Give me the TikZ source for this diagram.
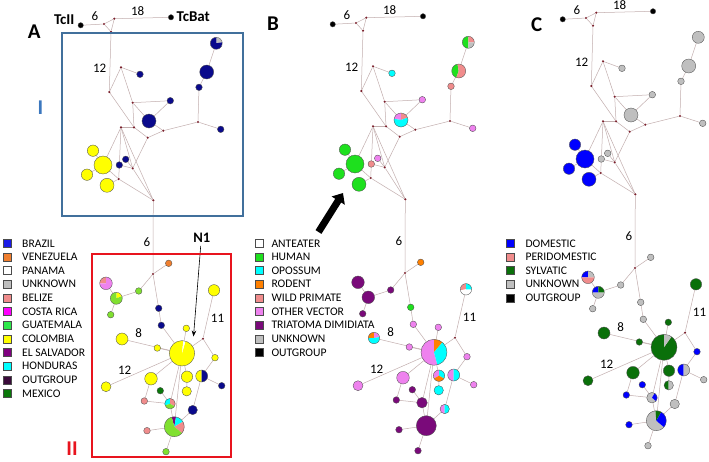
\documentclass[tikz,border=0pt]{standalone}
\usepackage{fontspec}
\setmainfont{Carlito}
\usetikzlibrary{arrows.meta,backgrounds}
\definecolor{navyc}{HTML}{0A0A8C}
\definecolor{brazilL}{HTML}{1A1AE6}
\definecolor{venez}{HTML}{F07F2F}
\definecolor{salm}{HTML}{F08C8C}
\definecolor{costaL}{HTML}{FF00FF}
\definecolor{violc}{HTML}{EE82EE}
\definecolor{guatL}{HTML}{2EE84A}
\definecolor{limec}{HTML}{80E030}
\definecolor{yel}{HTML}{FFFF00}
\definecolor{elsal}{HTML}{7F007F}
\definecolor{hond}{HTML}{00FFFF}
\definecolor{outg}{HTML}{3A0A3A}
\definecolor{mex}{HTML}{0A780A}
\definecolor{unk}{HTML}{BFBFBF}
\definecolor{human}{HTML}{1EE01E}
\definecolor{triat}{HTML}{7A0A7A}
\definecolor{rodent}{HTML}{FF8000}
\definecolor{domc}{HTML}{0000FF}
\definecolor{sylv}{HTML}{0A700A}
\definecolor{edgec}{HTML}{C2AEAE}
\definecolor{medc}{HTML}{7A1F2B}
\definecolor{outl}{HTML}{505050}
\definecolor{boxblue}{HTML}{41709C}
\definecolor{boxred}{HTML}{E8141E}
\definecolor{labI}{HTML}{3B77BE}
\tikzset{
  edge/.style={draw=edgec, line width=0.5pt},
  hapn/.style={circle, draw=outl, line width=0.35pt, inner sep=0pt, outer sep=0pt},
  med/.style={circle, fill=medc, inner sep=0pt, minimum size=2.4pt},
  numlab/.style={font=\fontsize{13}{13}\selectfont, inner sep=0pt},
  panlab/.style={font=\bfseries\fontsize{21}{21}\selectfont, inner sep=0pt},
  legsq/.style={draw=black!70, line width=0.4pt, minimum size=8pt, inner sep=0pt},
  legtx/.style={font=\fontsize{11.6}{12}\selectfont, anchor=west, inner sep=0pt},
}
\newcommand{\hp}[4]{%
  \foreach \sa/\ea/\cc in {#4}{\fill[\cc] #2 -- ++(\sa:#3pt) arc[start angle=\sa, end angle=\ea, radius=#3pt] -- cycle;}
  \node[hapn, minimum size=2*#3pt] (\pnl-#1) at #2 {};
}
\newcommand{\md}[2]{\node[med] (\pnl-#1) at #2 {};}
\newcommand{\commonparts}{%
  \md{m1}{(104,24)}\md{m2}{(114.3,18.7)}\md{m3}{(111,31.7)}\md{m4}{(109.3,92)}
  \md{m5}{(121,67.3)}\md{m6}{(132.7,102.7)}\md{m7}{(121,127.3)}\md{m8}{(134,127.3)}
  \md{m9}{(147.7,137.7)}\md{m10}{(163.3,130.7)}\md{m11}{(198,122)}\md{m12}{(132.7,168.3)}
  \md{m13}{(118.7,179)}\md{m14}{(153.3,200.3)}\md{m15}{(153,274)}\md{m16}{(203,338.7)}
  \hp{tc2}{(80.7,25.3)}{2.7}{0/360/black}
  \hp{tcb}{(171,17.3)}{2.7}{0/360/black}
  \node[numlab] (\pnl-t6a) at (95,16.2) {6};
  \node[numlab] (\pnl-t18) at (137.7,10.8) {18};
  \node[numlab] (\pnl-t12a) at (99.7,68.3) {12};
  \node[numlab] (\pnl-t6b) at (147,242.5) {6};
  \node[numlab] (\pnl-t8) at (138.7,333.2) {8};
  \node[numlab] (\pnl-t12b) at (124.7,369.8) {12};
  \node[numlab] (\pnl-t11) at (217.5,318) {11};
}
\begin{document}
\begin{tikzpicture}[x=1pt,y=-1pt]
\useasboundingbox (0,0) rectangle (709,461);
% ---------------- Panel A
\def\pnl{A}
\commonparts
\hp{h1}{(140,74.3)}{3.3}{0/360/navyc}
\hp{h2}{(170.3,100.7)}{3.3}{0/360/navyc}
\hp{h3}{(149,121)}{7}{0/360/navyc}
\hp{h4}{(220.7,129.3)}{3.3}{0/360/navyc}
\hp{h5}{(199,87.3)}{3.3}{0/360/navyc}
\hp{h6}{(206.7,72)}{7}{0/360/navyc}
\hp{h7}{(216.3,43.3)}{6}{10/90/unk,90/370/navyc}
\hp{h8}{(125.7,159.3)}{3.3}{0/360/navyc}
\hp{h9}{(119.3,165)}{3.3}{0/360/navyc}
\hp{y1}{(93,150.7)}{5.7}{0/360/yel}
\hp{y3}{(87,174.7)}{5.7}{0/360/yel}
\hp{y4}{(107,185.3)}{7}{0/360/yel}
\hp{y2}{(103,165)}{9}{0/360/yel}
\hp{l1}{(168.7,263.3)}{3.3}{0/360/venez}
\hp{l2}{(138.7,291)}{3.3}{0/360/limec}
\hp{l3}{(116.3,298.3)}{6}{20/90/yel,90/380/limec}
\hp{l4}{(106,283.3)}{6.3}{90/180/salm,180/450/violc}
\hp{l5}{(110.7,314.7)}{3.3}{0/360/limec}
\hp{l6}{(158.7,308.3)}{3.3}{0/360/navyc}
\hp{l7}{(161.3,325.3)}{3.3}{0/360/navyc}
\hp{big}{(182,353.3)}{12.7}{84/434/yel,74/84/white}
\hp{l8}{(186.3,328.3)}{3.3}{0/360/yel}
\hp{l9}{(122,339)}{6}{0/360/yel}
\hp{l10}{(157.3,348)}{3.3}{0/360/yel}
\hp{l11}{(106,386.7)}{5}{0/360/yel}
\hp{l12}{(151,378.7)}{6.3}{0/360/yel}
\hp{l13}{(187,376.7)}{5.7}{0/360/yel}
\hp{l14}{(186.7,391.3)}{4.7}{0/360/yel}
\hp{l15}{(160.3,390.7)}{3.3}{0/360/mex}
\hp{l16}{(170,403.7)}{5.3}{90/200/hond,-30/90/salm,200/330/limec}
\hp{l17}{(144.3,401)}{3.3}{0/360/salm}
\hp{l18}{(192.7,410)}{4.7}{0/360/navyc}
\hp{l19}{(174.3,426.7)}{10}{80/105/elsal,30/80/hond,-40/30/salm,105/320/limec}
\hp{l20}{(147,430.7)}{3.3}{0/360/salm}
\hp{l21}{(166,451.7)}{3.3}{0/360/limec}
\hp{l22}{(214,290.3)}{5.7}{0/360/yel}
\hp{l23}{(215,357.7)}{3.3}{0/360/yel}
\hp{l24}{(201.7,376)}{6}{90/270/yel,-90/90/navyc}
\hp{l25}{(221.7,385.7)}{3.3}{0/360/navyc}
\node[panlab] (labA) at (34.2,31.7) {A};
\node[font=\bfseries\fontsize{15}{15}\selectfont, inner sep=0pt] (tcII) at (64.2,20) {TcII};
\node[font=\bfseries\fontsize{15}{15}\selectfont, inner sep=0pt] (tcBat) at (193.3,16.7) {TcBat};
\node[font=\bfseries\fontsize{14.5}{15}\selectfont, inner sep=0pt] (N1) at (201.7,238) {N1};
\coordinate (N1tip) at (193.5,336.5);
\draw[line width=0.6pt, -{Stealth[length=6pt,width=4.5pt]}] (N1.south) ++(-1,3) -- (N1tip);
\node[draw=boxblue, line width=2.5pt, minimum width=181pt, minimum height=183pt, inner sep=0pt] (boxI) at (152.7,124.7) {};
\node[draw=boxred, line width=2.3pt, minimum width=139pt, minimum height=203pt, inner sep=0pt] (boxII) at (161.7,355.5) {};
\node[text=labI, font=\bfseries\fontsize{21}{21}\selectfont, inner sep=0pt] (labI) at (40.3,107.2) {I};
\node[text=boxred, font=\bfseries\fontsize{21}{21}\selectfont, inner sep=0pt] (labII) at (72,448.8) {II};
\foreach \t/\c [count=\i] in {BRAZIL/brazilL,VENEZUELA/venez,PANAMA/white,UNKNOWN/unk,BELIZE/salm,COSTA RICA/costaL,GUATEMALA/guatL,COLOMBIA/yel,EL SALVADOR/elsal,HONDURAS/hond,OUTGROUP/outg,MEXICO/mex}{
  \node[legsq, fill=\c] (lgA\i) at (6.7,{243.3+13.64*(\i-1)}) {};
  \node[legtx] (lgAt\i) at (22,{243.3+13.64*(\i-1)}) {\t};
}
% ---------------- Panel B
\begin{scope}[shift={(252,-1)}]
\def\pnl{B}
\commonparts
\hp{h1}{(140,74.3)}{3.3}{0/360/hond}
\hp{h2}{(170.3,100.7)}{3.3}{0/360/violc}
\hp{h3}{(149,121)}{7}{90/170/violc,20/90/salm,170/380/hond}
\hp{h4}{(220.7,129.3)}{3.3}{0/360/violc}
\hp{h5}{(199,87.3)}{3.3}{0/360/salm}
\hp{h6}{(206.7,72)}{7}{100/250/human,250/460/salm}
\hp{h7}{(216.3,43.3)}{6}{90/270/human,0/90/salm,270/360/unk}
\hp{h8}{(125.7,159.3)}{3.3}{0/360/violc}
\hp{h9}{(119.3,165)}{3.3}{0/360/salm}
\hp{y1}{(93,150.7)}{5.7}{0/360/human}
\hp{y3}{(87,174.7)}{5.7}{0/360/human}
\hp{y4}{(107,185.3)}{7}{0/360/human}
\hp{y2}{(103,165)}{9}{0/360/human}
\hp{l1}{(168.7,263.3)}{3.3}{0/360/rodent}
\hp{l2}{(138.7,291)}{3.3}{0/360/triat}
\hp{l3}{(116.3,298.3)}{6.3}{0/360/triat}
\hp{l4}{(106,283.3)}{6.3}{0/360/triat}
\hp{l5}{(110.7,314.7)}{3.3}{0/360/triat}
\hp{l6}{(158.7,308.3)}{3.3}{0/360/human}
\hp{l7}{(161.3,325.3)}{3.3}{0/360/violc}
\hp{big}{(182,353.3)}{13}{90/285/violc,50/90/rodent,-75/50/hond}
\hp{l8}{(186.3,328.3)}{3.3}{0/360/violc}
\hp{l9}{(122,339)}{5.7}{90/180/rodent,10/90/violc,180/370/hond}
\hp{l10}{(157.3,348)}{3.3}{0/360/violc}
\hp{l11}{(106,386.7)}{5}{0/360/violc}
\hp{l12}{(151,378.7)}{6.3}{0/360/violc}
\hp{l13}{(187,376.7)}{5.7}{90/210/violc,-30/90/hond,210/330/rodent}
\hp{l14}{(186.7,391.3)}{4.7}{0/360/hond}
\hp{l15}{(160.3,390.7)}{3.3}{0/360/triat}
\hp{l16}{(170,403.7)}{5.3}{0/360/triat}
\hp{l17}{(144.3,401)}{3.3}{0/360/triat}
\hp{l18}{(192.7,410)}{4.7}{90/270/violc,-90/90/hond}
\hp{l19}{(174.3,426.7)}{10}{0/360/triat}
\hp{l20}{(147,430.7)}{3.3}{0/360/triat}
\hp{l21}{(166,451.7)}{3.3}{0/360/triat}
\hp{l22}{(214,290.3)}{5.7}{90/190/salm,190/360/white,0/90/hond}
\hp{l23}{(215,357.7)}{3.3}{0/360/violc}
\hp{l24}{(201.7,376)}{6}{90/270/violc,-90/90/hond}
\hp{l25}{(221.7,385.7)}{3.3}{0/360/violc}
\end{scope}
\node[panlab] (labB) at (273,23.7) {B};
\coordinate (arrB) at (318.5,232);
\draw[line width=7pt, -{Triangle[length=9pt,width=15pt]}] (arrB) -- (343,193);
\foreach \t/\c [count=\i] in {ANTEATER/white,HUMAN/human,OPOSSUM/hond,RODENT/rodent,WILD PRIMATE/salm,OTHER VECTOR/violc,TRIATOMA DIMIDIATA/triat,UNKNOWN/unk,OUTGROUP/black}{
  \node[legsq, fill=\c] (lgB\i) at (259.2,{243.3+13.64*(\i-1)}) {};
  \node[legtx] (lgBt\i) at (271.3,{243.3+13.64*(\i-1)}) {\t};
}
% ---------------- Panel C
\begin{scope}[shift={(482,-6)}]
\def\pnl{C}
\commonparts
\hp{h1}{(140,74.3)}{3.3}{0/360/unk}
\hp{h2}{(170.3,100.7)}{3.3}{0/360/unk}
\hp{h3}{(149,121)}{7}{0/360/unk}
\hp{h4}{(220.7,129.3)}{3.3}{0/360/unk}
\hp{h5}{(199,87.3)}{3.3}{0/360/unk}
\hp{h6}{(206.7,72)}{7}{0/360/unk}
\hp{h7}{(216.3,43.3)}{6}{0/360/unk}
\hp{h8}{(125.7,159.3)}{3.3}{0/360/unk}
\hp{h9}{(119.3,165)}{3.3}{0/360/unk}
\hp{y1}{(93,150.7)}{5.7}{0/360/domc}
\hp{y3}{(87,174.7)}{5.7}{0/360/domc}
\hp{y4}{(107,185.3)}{7}{0/360/domc}
\hp{y2}{(103,165)}{9}{0/360/domc}
\hp{l1}{(168.7,263.3)}{3.3}{0/360/unk}
\hp{l2}{(138.7,291)}{3.3}{0/360/unk}
\hp{l3}{(116.3,298.3)}{6}{180/360/unk,90/180/domc,0/90/sylv}
\hp{l4}{(106,283.3)}{6.3}{90/180/domc,0/90/unk,180/360/salm}
\hp{l5}{(110.7,314.7)}{3.3}{0/360/unk}
\hp{l6}{(158.7,308.3)}{3.3}{0/360/unk}
\hp{l7}{(161.3,325.3)}{3.3}{0/360/unk}
\hp{big}{(182,353.3)}{13}{90/415/sylv,55/90/unk}
\hp{l8}{(186.3,328.3)}{3.3}{0/360/sylv}
\hp{l9}{(122,339)}{6}{0/360/sylv}
\hp{l10}{(157.3,348)}{3.3}{0/360/sylv}
\hp{l11}{(106,386.7)}{5}{0/360/sylv}
\hp{l12}{(151,378.7)}{6.3}{0/360/sylv}
\hp{l13}{(187,376.7)}{5.7}{0/360/sylv}
\hp{l14}{(186.7,391.3)}{4.7}{90/270/sylv,-90/90/unk}
\hp{l15}{(160.3,390.7)}{3.3}{0/360/domc}
\hp{l16}{(170,403.7)}{5.3}{60/320/unk,-40/60/domc}
\hp{l17}{(144.3,401)}{3.3}{0/360/domc}
\hp{l18}{(192.7,410)}{4.7}{0/360/unk}
\hp{l19}{(174.3,426.7)}{10}{95/320/unk,60/95/sylv,-40/60/domc}
\hp{l20}{(147,430.7)}{3.3}{0/360/domc}
\hp{l21}{(166,451.7)}{3.3}{0/360/unk}
\hp{l22}{(214,290.3)}{5.7}{0/360/sylv}
\hp{l23}{(215,357.7)}{3.3}{0/360/domc}
\hp{l24}{(201.7,376)}{6}{90/270/domc,-90/90/unk}
\hp{l25}{(221.7,385.7)}{3.3}{0/360/unk}
\end{scope}
\node[panlab] (labC) at (536.8,24.2) {C};
\foreach \t/\c [count=\i] in {DOMESTIC/domc,PERIDOMESTIC/salm,SYLVATIC/sylv,UNKNOWN/unk,OUTGROUP/black}{
  \node[legsq, fill=\c] (lgC\i) at (510.5,{243.3+13.64*(\i-1)}) {};
  \node[legtx] (lgCt\i) at (525.3,{243.3+13.64*(\i-1)}) {\t};
}
% ---------------- connectors
\begin{scope}[on background layer]
\fill[white] (0,0) rectangle (709,461);
\foreach \pp in {A,B,C}{
  \foreach \u/\v in {tc2/m1,m1/m2,m1/m3,m2/m3,m2/tcb,m3/m4,m4/m5,m5/h1,m5/m6,m4/m8,m6/h2,m6/m8,m6/h3,h2/h3,m7/m8,m8/m9,h3/m10,m9/m10,m10/m11,m11/h4,m11/h5,h5/h6,h6/h7,m9/m12,m7/m12,m7/m14,m7/y2,m12/m14,m13/m14,m7/m13,h8/m12,h9/m12,m13/y4,y2/y1,y2/y3,y2/m13,m14/m15,m15/l1,m15/l2,m15/l6,l2/l3,l3/l4,l3/l5,l6/l7,l7/big,big/l8,big/l9,big/l10,big/l11,big/l12,big/l13,big/m16,big/l16,big/l19,m16/l22,m16/l23,l23/l24,l24/l25,l24/l18,l18/l19,l13/l14,l16/l17,l15/l16,l16/l19,l12/l17,l19/l20,l19/l21}{
    \draw[edge] (\pp-\u) -- (\pp-\v);
  }
}
\end{scope}
\end{tikzpicture}
\end{document}
